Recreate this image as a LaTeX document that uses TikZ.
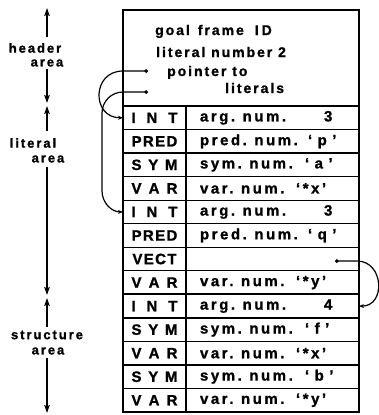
\documentclass[tikz,border=0pt]{standalone}
\usepackage{fontspec}
\setmainfont{Liberation Sans}
\newfontfamily\cellfont{Liberation Sans}[LetterSpace=17,BoldFeatures={FakeBold=1.2}]
\newfontfamily\codefont{Liberation Sans}[LetterSpace=9,BoldFeatures={FakeBold=1.2}]
\newfontfamily\headfont{Liberation Sans}[LetterSpace=14,BoldFeatures={FakeBold=1.2}]
\newfontfamily\areafont{Liberation Sans}[LetterSpace=15,BoldFeatures={FakeBold=1.2}]
\usetikzlibrary{arrows.meta,calc}
% field name set in a box of fixed width, so the quoted parts line up
\newcommand\fld[2]{\makebox[#1][l]{#2}}
\newcommand\qt[1]{‘\kern5.5pt#1\kern5.5pt’}
% type code spread over the width of the code column
\newcommand\spr[1]{\makebox[46pt][s]{#1}}
\begin{document}
\begin{tikzpicture}[x=1pt,y=-1pt,
  frame/.style={draw,line width=1.3pt,inner sep=0pt,outer sep=0pt,anchor=north west},
  codecell/.style={frame,minimum width=63pt,minimum height=23.54pt,
    font={\codefont\bfseries\fontsize{15pt}{17pt}\selectfont}},
  valcell/.style={frame,minimum width=173pt,minimum height=23.54pt,
    text width=145pt,align=left,inner xsep=14pt,
    font={\cellfont\bfseries\fontsize{15pt}{17pt}\selectfont}},
  hdtext/.style={anchor=base west,inner sep=0pt,
    font={\headfont\bfseries\fontsize{14pt}{16pt}\selectfont}},
  arealbl/.style={inner sep=0pt,font={\areafont\bfseries\fontsize{13pt}{15pt}\selectfont}},
  aarr/.style={line width=1.4pt,-{Stealth[length=8pt,width=5.5pt,inset=1.5pt]}},
  ptr/.style={line width=1.2pt,{Circle[length=3.6pt]}-{Stealth[length=5pt,width=4pt]}}]
\useasboundingbox (0,0) rectangle (378,415);

% header block of the goal frame
\node[frame,minimum width=236pt,minimum height=96pt] (hdr) at (123,10) {};
\node[hdtext] (g1) at (155,35) {goal\hspace{8pt}frame\hspace{11pt}I\kern3pt D};
\node[hdtext] (g2) at (156,57) {literal number 2};
\node[hdtext] (g3) at (167,76) {pointer to};
\node[hdtext] (g4) at (225,93) {literals};
\coordinate (p1) at (148,71);
\coordinate (p2) at (148,92);

% typed cells of the literal and structure areas
\foreach \code/\val [count=\i] in {
  \spr{I N T}/\fld{124pt}{arg. num.}3,
  PRED/\fld{108pt}{pred. num.}\qt{p},
  \spr{S Y M}/\fld{105pt}{sym. num.}\qt{a},
  \spr{V A R}/\fld{96pt}{var. num.}‘*x’,
  \spr{I N T}/\fld{124pt}{arg. num.}3,
  PRED/\fld{108pt}{pred. num.}\qt{q},
  VECT/{},
  \spr{V A R}/\fld{96pt}{var. num.}‘*y’,
  \spr{I N T}/\fld{124pt}{arg. num.}4,
  \spr{S Y M}/\fld{105pt}{sym. num.}\qt{f},
  \spr{V A R}/\fld{96pt}{var. num.}‘*x’,
  \spr{S Y M}/\fld{105pt}{sym. num.}\qt{b},
  \spr{V A R}/\fld{96pt}{var. num.}‘*y’}
{
  \node[codecell] (c\i) at (123,{106+23.54*(\i-1)}) {\code};
  \node[valcell] (v\i) at (186,{106+23.54*(\i-1)}) {\val};
}
\draw[line width=2.4pt] (hdr.south west) -- (hdr.south east);
\draw[line width=2pt] (c9.north west) -- (v9.north east);

% pointers from the header to the literals
\draw[ptr] (p1) -- ++(-25,0) .. controls +(-31.5,0) and +(-31.5,0) .. (c1.west);
\draw[ptr] (p2) -- ++(-25,0) .. controls +(-11.6,0) and +(0,-11.6) .. ++(-21,21)
  -- ($(c5.west)+(-21,-21)$) .. controls +(0,11.6) and +(-11.6,0) .. (c5.west);
% vector pointer into the structure area
\coordinate (vp) at ($(v7.east)+(-24,2)$);
\draw[ptr] (vp) -- ($(v7.east)+(-2,2)$) .. controls +(27,0) and +(27,0) .. (v9.east);

% area labels with their extent arrows
\node[arealbl] (h1) at (35,48) {header};
\node[arealbl] (h2) at (47,63) {area};
\node[arealbl] (l1) at (33,143) {literal};
\node[arealbl] (l2) at (48,159) {area};
\node[arealbl] (s1) at (47,335) {structure};
\node[arealbl] (s2) at (48,351) {area};
\coordinate (htop) at (47,8);
\coordinate (hbot) at (47,103);
\coordinate (ltop) at (47,106);
\coordinate (lbot) at (47,295);
\coordinate (stop) at (47,298);
\coordinate (sbot) at (47,413);
\draw[aarr] (47,37) -- (htop);
\draw[aarr] (h2.south) ++(0,2) -- (hbot);
\draw[aarr] (47,131) -- (ltop);
\draw[aarr] (l2.south) ++(-1,4) -- (lbot);
\draw[aarr] (47,327) -- (stop);
\draw[aarr] (s2.south) ++(-1,3) -- (sbot);
\end{tikzpicture}
\end{document}
